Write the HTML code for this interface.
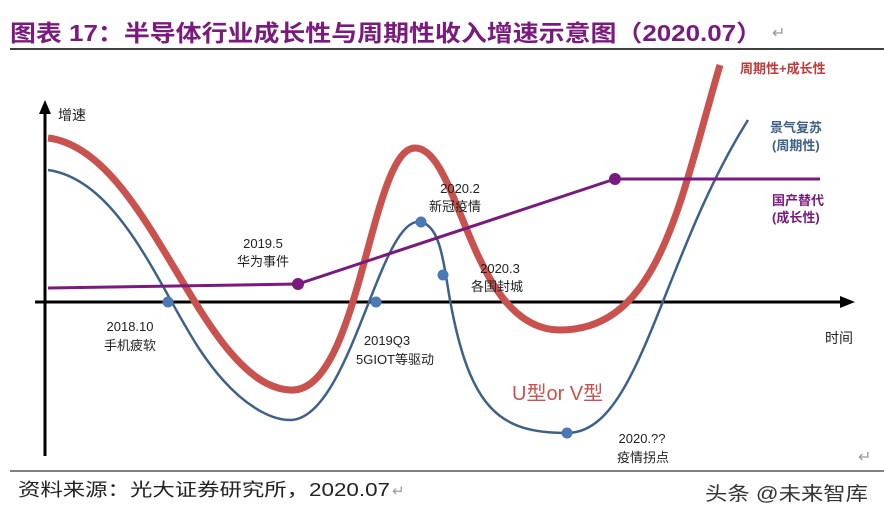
<!DOCTYPE html>
<html><head><meta charset="utf-8"><style>
body{margin:0;width:884px;height:522px;background:#fff;overflow:hidden;font-family:"Liberation Sans","Noto Sans CJK SC",sans-serif}
</style></head><body>
<svg width="884" height="522" viewBox="0 0 884 522" xmlns="http://www.w3.org/2000/svg" font-family="Liberation Sans, Noto Sans CJK SC, sans-serif">
<text x="10" y="41" font-size="23" font-weight="bold" fill="#7b1a7e" textLength="752" lengthAdjust="spacingAndGlyphs">图表 17：半导体行业成长性与周期性收入增速示意图（2020.07）</text>
<text x="772" y="38" font-size="16" fill="#999">↵</text>
<line x1="10" y1="49" x2="884" y2="49" stroke="#000" stroke-width="1.5"/>
<!-- axes -->
<line x1="45" y1="456" x2="45" y2="112" stroke="#000" stroke-width="3"/>
<polygon points="45,100 39,114 51,114" fill="#000"/>
<line x1="35" y1="302" x2="842" y2="302" stroke="#000" stroke-width="3"/>
<polygon points="855,302 840,296 840,308" fill="#000"/>
<text x="58" y="120" font-size="14" fill="#222">增速</text>
<text x="825" y="343" font-size="14" fill="#222">时间</text>
<!-- red -->
<path d="M48,138 C150,150 200,385 290,390 C360,395 370,148 415,148 C460,148 470,330 560,330 C660,330 680,200 720,65" fill="none" stroke="#c9524e" stroke-width="7"/>
<!-- blue -->
<path d="M48,170 C120,180 160,290 200,350 C240,410 275,420 290,420 C350,420 380,215 420,222 C440,225 443,260 450,300 C470,410 500,433 567,433 C640,433 660,260 748,120" fill="none" stroke="#3d6189" stroke-width="2.5"/>
<!-- purple -->
<polyline points="48,288 298,284 615,179 820,179" fill="none" stroke="#7a1a7f" stroke-width="3"/>
<circle cx="298" cy="284" r="6" fill="#7a1a7f"/>
<circle cx="615" cy="179" r="6" fill="#7a1a7f"/>
<g fill="#4a79b5">
<circle cx="168" cy="302" r="5.5"/><circle cx="376" cy="302" r="5.5"/><circle cx="421" cy="222" r="5.5"/><circle cx="443" cy="275" r="5.5"/><circle cx="567" cy="433" r="5.5"/>
</g>
<g font-size="13" fill="#222" text-anchor="middle">
<text x="263" y="248">2019.5</text><text x="263" y="266">华为事件</text>
<text x="460" y="193">2020.2</text><text x="455" y="211">新冠疫情</text>
<text x="500" y="273">2020.3</text><text x="497" y="291">各国封城</text>
<text x="130" y="331">2018.10</text><text x="130" y="350">手机疲软</text>
<text x="387" y="345">2019Q3</text><text x="395" y="364">5GIOT等驱动</text>
<text x="642" y="443">2020.??</text><text x="643" y="462">疫情拐点</text>
</g>
<text x="512" y="400" font-size="20" fill="#c9524e">U型or V型</text>
<g font-size="13" font-weight="bold">
<text x="740" y="73" fill="#c0393b">周期性+成长性</text>
<text x="770" y="132" fill="#3d6189">景气复苏</text><text x="772" y="150" fill="#3d6189">(周期性)</text>
<text x="772" y="205" fill="#7a1a7f">国产替代</text><text x="772" y="222" fill="#7a1a7f">(成长性)</text>
</g>
<text x="858" y="462" font-size="16" fill="#999">↵</text>
<line x1="10" y1="471" x2="884" y2="471" stroke="#000" stroke-width="1"/>
<text x="18" y="496" font-size="18" fill="#222" textLength="372" lengthAdjust="spacingAndGlyphs">资料来源：光大证券研究所，2020.07</text>
<text x="392" y="496" font-size="15" fill="#999">↵</text>
<text x="705" y="500" font-size="19" fill="#333" textLength="163" lengthAdjust="spacingAndGlyphs">头条 @未来智库</text>
</svg>
</body></html>
